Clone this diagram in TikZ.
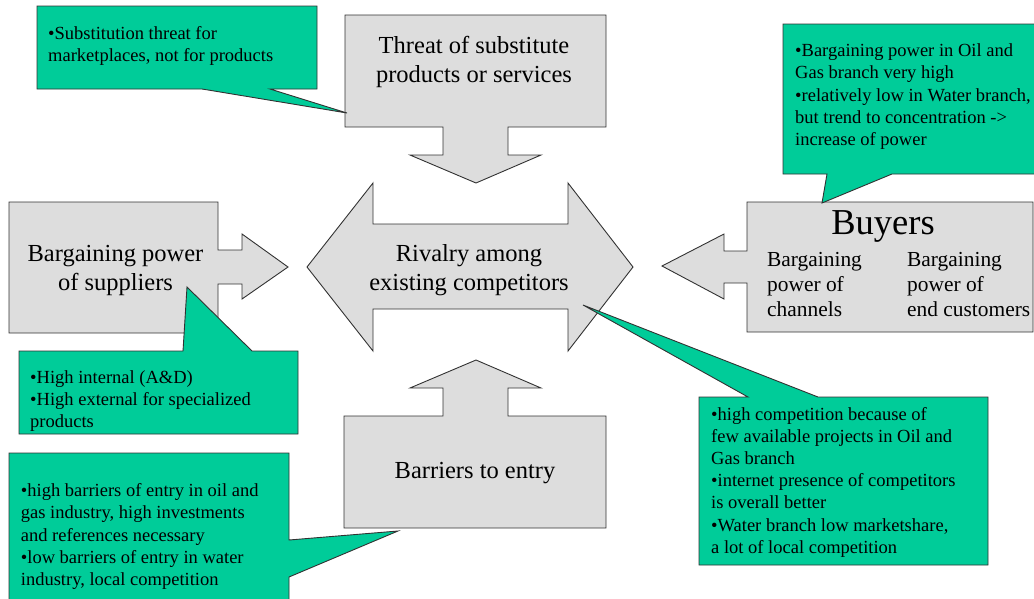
\documentclass[tikz,border=0pt]{standalone}
\usepackage{fontspec}
\setmainfont{Liberation Serif}
\definecolor{calloutgreen}{RGB}{0,204,153}
\definecolor{forcegray}{RGB}{221,221,221}
\definecolor{edgegray}{RGB}{50,50,50}
\newcommand\notefont{\fontsize{18.5}{22.2}\selectfont}
\newcommand\forcefont{\fontsize{24.5}{29}\selectfont}
\newcommand\buyerfont{\fontsize{21.4}{25}\selectfont}
\begin{document}
\begin{tikzpicture}[x=1pt,y=-1pt,
  forcebox/.style={fill=forcegray, draw=edgegray, line width=0.9pt, line join=miter},
  calloutbox/.style={fill=calloutgreen, draw=edgegray, line width=0.9pt, line join=miter},
  notetext/.style={anchor=base west, inner sep=0pt, font=\notefont},
  forcetext/.style={anchor=base, inner sep=0pt, font=\forcefont}]
\useasboundingbox (0,0) rectangle (1034,598);

% --- the five forces as block arrows ---
% threat of substitutes (pointing down)
\draw[forcebox] (345,15) -- (606,15) -- (606,127) -- (508,127) -- (508,155) -- (541,155)
  -- (476,183) -- (410,155) -- (443,155) -- (443,127) -- (345,127) -- cycle;
% barriers to entry (pointing up)
\draw[forcebox] (344,528) -- (606,528) -- (606,416) -- (508,416) -- (508,388) -- (541,388)
  -- (476,360) -- (410,388) -- (443,388) -- (443,416) -- (344,416) -- cycle;
% suppliers (pointing right)
\draw[forcebox] (9,202) -- (218,202) -- (218,250) -- (242,250) -- (242,234) -- (288,267)
  -- (242,299) -- (242,284) -- (218,284) -- (218,333) -- (9,333) -- cycle;
% buyers (pointing left)
\draw[forcebox] (1033,202) -- (747,202) -- (747,251) -- (724,251) -- (724,234) -- (662,266)
  -- (724,299) -- (724,283) -- (747,283) -- (747,332) -- (1033,332) -- cycle;
% rivalry (double arrow)
\draw[forcebox] (307,267) -- (373,183) -- (373,224) -- (568,224) -- (568,183) -- (633,267)
  -- (568,351) -- (568,309) -- (373,309) -- (373,351) -- cycle;

% --- callouts ---
\draw[calloutbox] (37,6) -- (317,6) -- (317,89) -- (270,89) -- (347,113) -- (202,89)
  -- (37,89) -- cycle;
\draw[calloutbox] (783,24) -- (1045,24) -- (1045,174) -- (892,174) -- (822,203) -- (827,174)
  -- (783,174) -- cycle;
\draw[calloutbox] (19,351) -- (183,351) -- (187,287) -- (252,351) -- (298,351) -- (298,434)
  -- (19,434) -- cycle;
\draw[calloutbox] (9,453) -- (289,453) -- (289,540) -- (398,531) -- (289,577) -- (289,610)
  -- (9,610) -- cycle;
\draw[calloutbox] (699,397) -- (748,397) -- (583,305) -- (818,397) -- (988,397) -- (988,565)
  -- (699,565) -- cycle;

% --- force labels ---
\node[forcetext] (threat) at (474,53)
  {\parbox[t]{260pt}{\centering Threat of substitute\\products or services}};
\node[forcetext] (rivalry) at (469,261.7)
  {\parbox[t]{260pt}{\centering Rivalry among\\existing competitors}};
\node[forcetext] (suppliers) at (115.5,261.7)
  {\parbox[t]{220pt}{\centering Bargaining power\\of suppliers}};
\node[forcetext] (barriers) at (475,478) {Barriers to entry};
\node[anchor=base, inner sep=0pt, font=\fontsize{36.5}{40}\selectfont] (buyers) at (883,234) {Buyers};
\node[anchor=base west, inner sep=0pt, font=\buyerfont] (channels) at (767,266.7)
  {\parbox[t]{140pt}{Bargaining\\power of\\channels}};
\node[anchor=base west, inner sep=0pt, font=\buyerfont] (endcust) at (907,266.7)
  {\parbox[t]{140pt}{Bargaining\\power of\\end customers}};

% --- callout texts ---
\node[notetext] (substnote) at (48,39.3)
  {\parbox[t]{300pt}{•Substitution threat for\\marketplaces, not for products}};
\node[notetext] (buyernote) at (795,56.7)
  {\parbox[t]{300pt}{•Bargaining power in Oil and\\Gas branch very high\\•relatively low in Water branch,\\but trend to concentration ->\\increase of power}};
\node[notetext] (suppliernote) at (30,383.3)
  {\parbox[t]{300pt}{•High internal (A\&D)\\•High external for specialized\\products}};
\node[notetext] (barriernote) at (20.7,496.7)
  {\parbox[t]{300pt}{•high barriers of entry in oil and\\gas industry, high investments\\and references necessary\\•low barriers of entry in water\\industry, local competition}};
\node[notetext] (rivalrynote) at (711,420)
  {\parbox[t]{300pt}{•high competition because of\\few available projects in Oil and\\Gas branch\\•internet presence of competitors\\is overall better\\•Water branch low marketshare,\\a lot of local competition}};
\end{tikzpicture}
\end{document}
